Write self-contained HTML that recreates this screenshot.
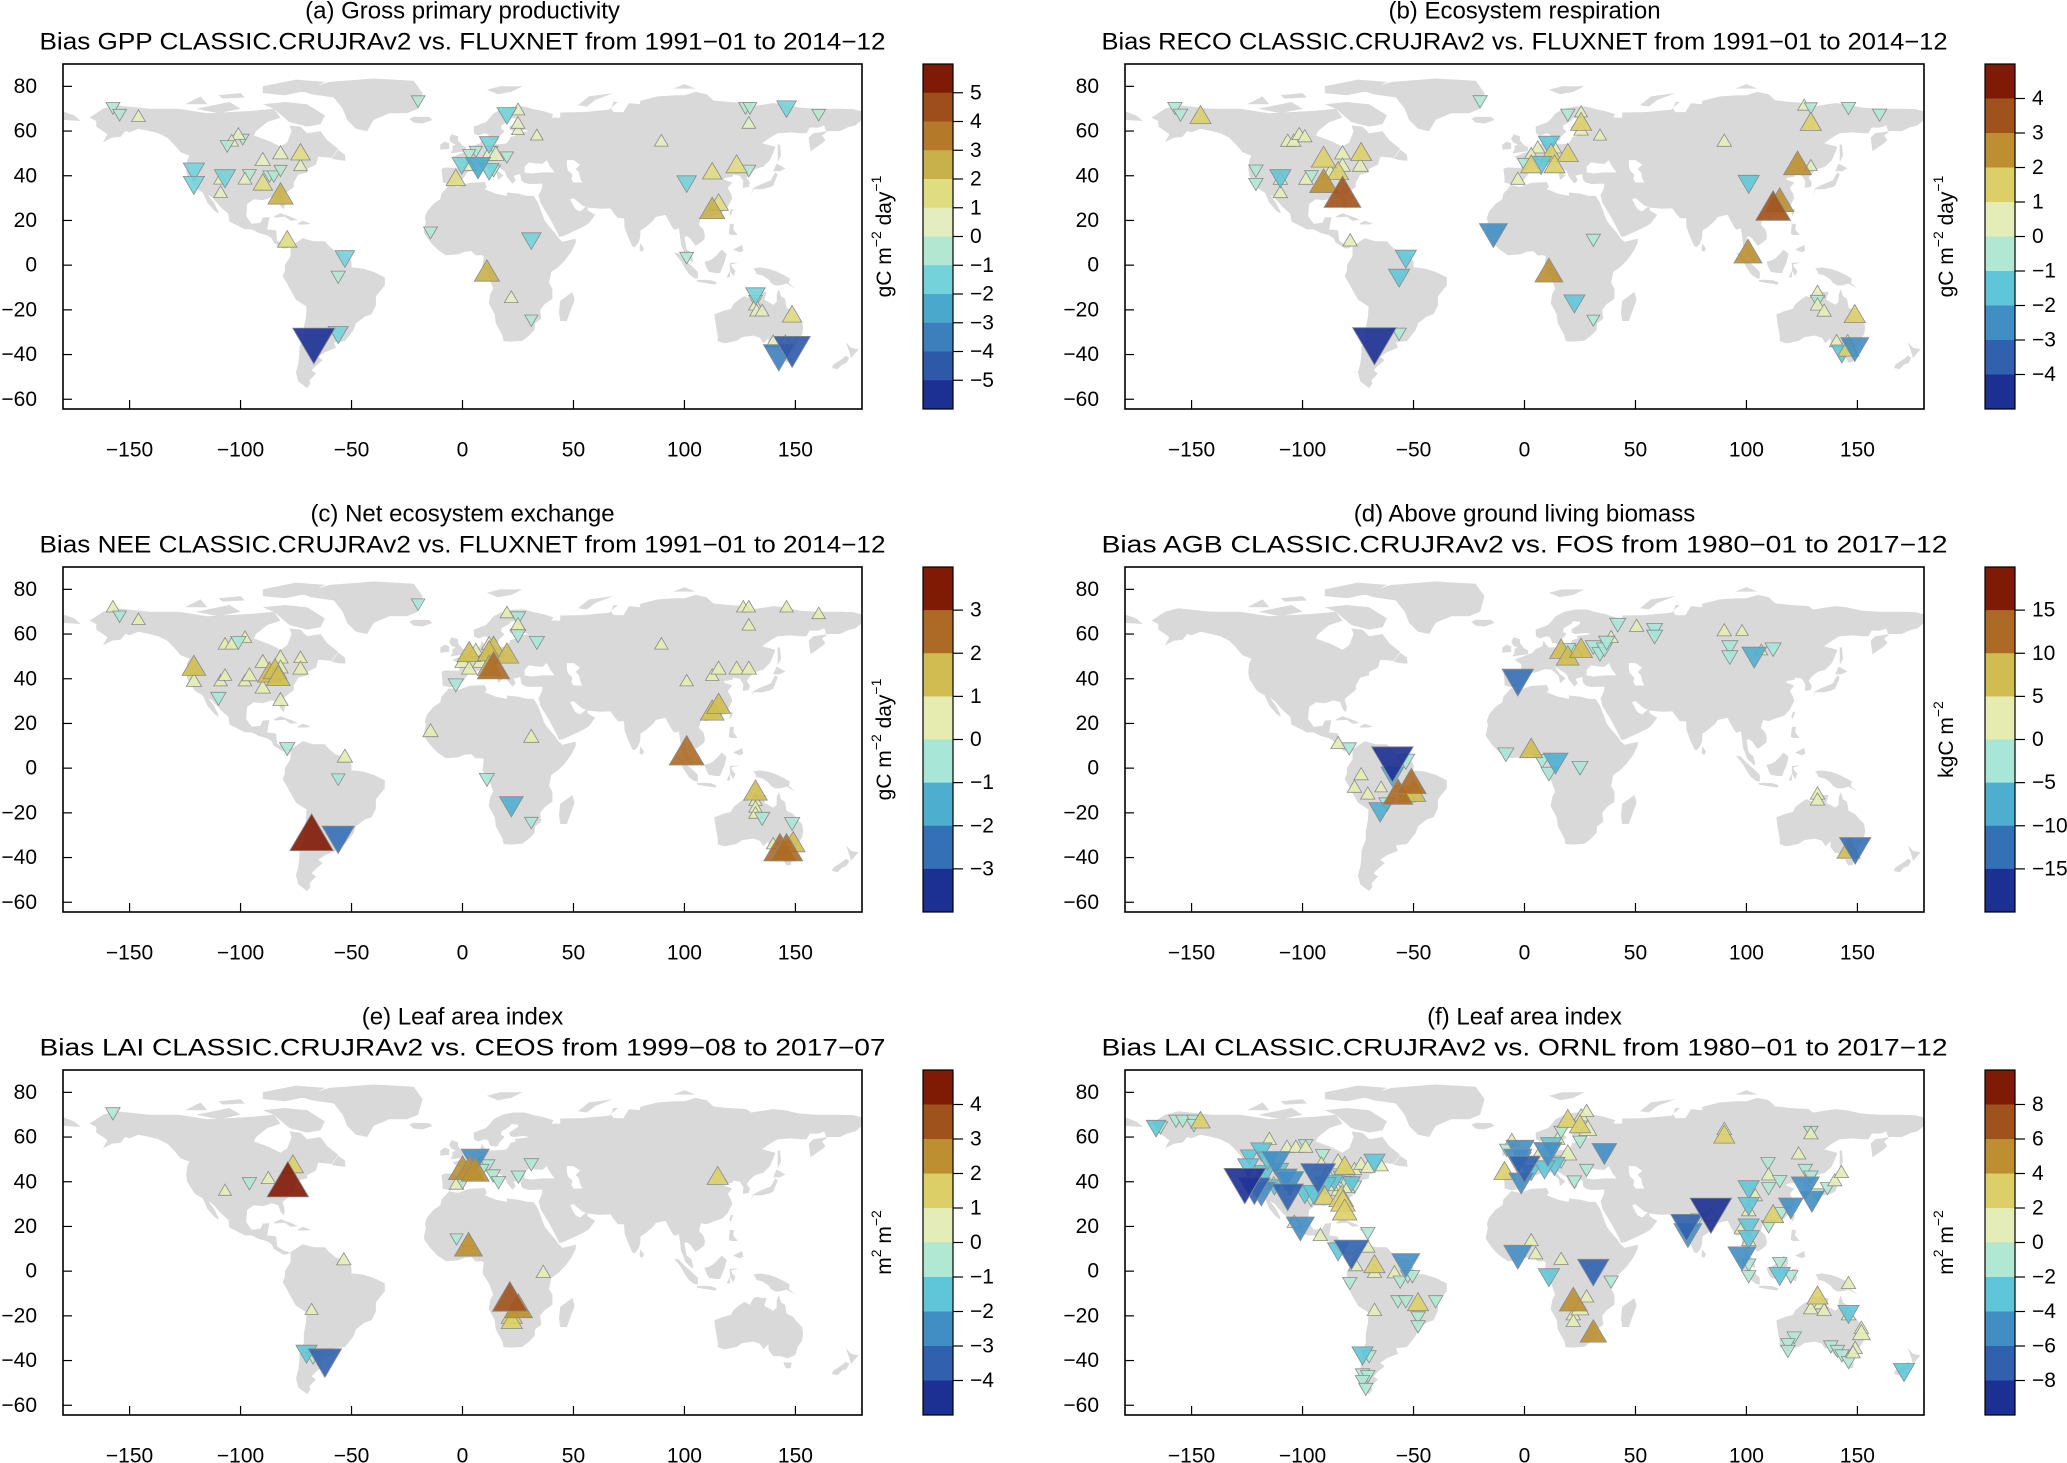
<!DOCTYPE html>
<html><head><meta charset="utf-8">
<style>
html,body{margin:0;padding:0;background:#fff;}
svg{display:block;font-family:"Liberation Sans",Arial,sans-serif;}
</style></head>
<body>
<svg id="fig" width="2067" height="1463" viewBox="0 0 2067 1463" xmlns="http://www.w3.org/2000/svg"></svg>
<script>
// ---- Site data: [lon, lat, bias] ----
const gppSites = [[-157.5,71,-0.5],[-154.5,68,-0.5],[-146,66,0.5],[-101,58,0.5],[-104,55,0.5],[-106,54,-0.5],[-99,57,-0.3],[-121,43,-1.8],[-121,37,-1.8],[-107,40,-1.8],[-109,38,0.5],[-109,32,0.5],[-96,41,-0.5],[-98,38,0.5],[-90,46.5,0.8],[-82,49.5,0.8],[-73,49.5,1.5],[-87,40.5,-0.4],[-85,40.5,-0.4],[-82,43,-0.4],[-73,44,0.5],[-90,36,1.5],[-82,30.5,2.5],[-79,10.5,1.5],[-53,4,-1.5],[-56,-4.5,-0.6],[-67,-33.5,-5.5],[-56,-30,-1.6],[-20,74,-0.5],[20,68,-1.5],[25,69,0.5],[25,63,0.5],[25,60,0.3],[33.5,57.6,0.3],[12,55,-1.5],[6,51.5,-0.4],[13,51.5,-0.4],[12,49,1],[15,49,1],[3,50,-0.4],[20,49,-0.4],[-0.3,45.7,-1.5],[7,45,-2.5],[12,43,-1.5],[14,43,-0.5],[3,44,0.5],[-3,38,1.5],[-14.4,15.3,-0.5],[31,12,-1.5],[11,-4,2.5],[22,-15,0.5],[31,-24,-0.4],[89.6,55,0.5],[101,37.5,-1.5],[112.5,41,1.5],[123.5,44,1.8],[129,43,-0.5],[112.5,24,2.5],[115.4,27,1.5],[101,4,-0.5],[127.5,71,-0.5],[129.5,71,-0.5],[129,63,0.5],[146,71,-1.5],[160.5,68,-0.5],[132,-12.6,-1.5],[132,-15.3,-0.5],[132,-18.3,0.5],[132.5,-21,0.5],[135,-21,0.5],[148.5,-23,1.5],[140,-34.7,0.5],[145.5,-34.7,0.5],[142.5,-39.5,-3.5],[148.5,-36.5,-4.5]];
const recoSites = [[-157.5,71,-0.5],[-155,68,-0.5],[-146,66,1.5],[-106.7,55,0.5],[-104,55,0.5],[-101.5,58,0.5],[-99,57,0.5],[-121,43,-0.5],[-121,37,-0.5],[-110,40,-1.5],[-110,38,0.5],[-110,32,0.5],[-96,40.5,-0.4],[-98.5,38,0.5],[-90.5,47,2],[-82,49.5,0.7],[-73.6,49.5,1.5],[-87.5,41,0.7],[-84,41,1.5],[-82,44,0.7],[-74,44,0.7],[-90.5,36,2.5],[-82,30.5,3.8],[-78.6,10.4,0.5],[-53.5,4,-1.5],[-56.5,-4.5,-1.5],[-67.6,-33.5,-4.8],[-56.5,-30,-0.5],[-20,74,-0.5],[19.5,68,-0.5],[25.5,68,0.3],[25.5,63,1.5],[25.5,60,0.5],[34,57.6,0.3],[11,55,-1.5],[6,52,0.5],[13.5,52,0.5],[12,49,1.5],[19.5,49,1.5],[3,49,0.5],[0,46,-0.5],[7.5,46,-1.5],[13.5,44,1.5],[3,44,1.5],[-3,38,0.5],[-14,15,-2.5],[31,12,-0.5],[11,-4,2.5],[22.5,-16,-1.5],[31,-24,-0.3],[90,55,0.5],[101,37.5,-1.5],[123,44,2.5],[129,44,0.3],[112,24.5,3.5],[115,27.5,2.5],[100.7,4.5,2.5],[126,71,0.3],[129,71,-0.3],[129,63,1.5],[146,71,-0.5],[160,68,-0.5],[132,-12.6,0.5],[132,-15.3,-0.5],[132,-18.3,0.5],[135,-21,0.5],[148.8,-23,1.5],[140.6,-34.7,0.5],[145.6,-34.7,0.5],[143,-38.4,-1.5],[146,-38,1.5],[148.8,-36,-2.5]];
const neeSites = [[-157.5,71.6,0.3],[-154.5,68.6,-0.3],[-146,66,0.3],[-107,55,0.3],[-104,55,0.3],[-101,57,-0.5],[-98,58,0.3],[-121,44.5,1.5],[-121,38.5,0.5],[-110,32,-0.5],[-109,38.5,0.3],[-107,41,0.3],[-98,38.5,0.3],[-96,41,0.5],[-90,47,0.5],[-82,49,0.5],[-73,49,0.3],[-90,35.5,0.5],[-87,41.5,1.5],[-84.5,43,1.5],[-83,40,1.5],[-82,44.5,0.5],[-73,44,0.5],[-82,30,0.5],[-79,9.5,-0.5],[-53,4.6,0.5],[-56,-4.3,-0.3],[-68,-31.4,3.8],[-56,-30,-2.5],[-20,74,-0.3],[20,69,0.3],[25,68,-0.5],[25,63.5,0.5],[25,60,-0.5],[33.5,57,-0.5],[3,50.7,1.5],[6,52,0.5],[12,55,0.5],[14,53,1.5],[12,51,1.5],[20,50,1.5],[14,49,-0.5],[0,47,0.5],[3,44,0.5],[8,47,0.5],[12,44.5,1.5],[14,44,2.5],[-3,38,-0.5],[-14.4,16,0.5],[31,13.5,0.5],[11,-4.3,-0.5],[22,-15.8,-1.5],[31,-23.7,-0.3],[89.6,55,0.3],[101,38.5,0.3],[112.5,41,0.3],[115.4,44,0.5],[123.5,44,0.5],[129,44,0.5],[112.5,24.5,1.5],[115.4,27.5,1.5],[101,5.8,2.8],[126.5,71.6,0.3],[129,71.6,0.3],[129,63.5,0.3],[146,71.6,0.3],[160.5,68.6,0.3],[132,-11.3,1.5],[132,-15,0.3],[132,-18,0.3],[132,-20.7,0.3],[135,-21.7,-0.5],[148.5,-24,-0.5],[140,-34.4,0.3],[143,-37.4,2.5],[146,-37.4,2.5],[145.5,-35,-0.5],[149,-34.4,1.5]];
const agbSites = [[-84,10.6,2],[-79,9.5,-2],[-59.5,4.3,-18],[-53.5,4,-4],[-59.5,-2.4,-7],[-73.6,-3.4,2],[-76.6,-9,2],[-70.6,-12,2],[-64.6,-9,1],[-57,-12.4,11],[-51,-7.6,11],[-50,-11.8,8],[-53,-12.8,4],[-55.6,-9.8,-2],[-65,-18.3,-7],[-62,-15.3,-3],[-3,40.3,-12],[-8.4,7,-3],[3,7.6,7],[8,4,-3],[14,3.6,-8],[11,-1.6,-3],[25,1,-3],[16.5,52,7],[19.5,53.7,-3],[22.5,52,2],[19.5,49,7],[25.5,52.4,7],[31,55,-3],[34,52,-3],[36,54,-3],[37,57,-3],[39,58,2],[42,65,-3],[50.5,63,2],[58.6,62.7,-3],[58.6,59.7,-3],[90,61,2],[98,61,1],[92.5,55,-3],[92.5,50.5,-3],[103.5,51,-8],[106.7,52.3,1],[112,54,-3],[132,-12,2],[132,-14.7,2],[149,-35,-12],[146,-37.4,7]];
const laiCeosSites = [[-157.5,71.3,-0.5],[-107,35.6,0.3],[-96,40,-0.5],[-87.5,41,0.5],[-76.4,46.7,1.5],[-78.7,38.5,4.5],[5.7,51,-2.5],[8.4,48,0.5],[11.4,48,-0.5],[8.7,46,-0.5],[0,44.5,2.5],[3.3,44.5,2.5],[5.7,43.8,2.5],[13.8,43.5,-0.5],[16.2,40.5,-0.5],[25.2,43,-0.5],[31,48.5,-0.5],[-2.7,38.5,0.5],[0,40.5,-0.5],[115,41.5,1.5],[-2.7,15,-0.3],[2.7,13.2,0.5],[2.7,10.3,2.5],[36.4,-1,0.5],[-53.5,4.6,0.5],[-68,-17.7,0.3],[21.3,-13.5,3.5],[25.2,-17.3,2.5],[22.2,-20.7,1.5],[22.2,-23,1.5],[-70.3,-35.8,-1.5],[-67.3,-38,-0.5],[-62,-39,-3.3]];
const laiOrnlSites = [[-166,65,-2.5],[-164,65,-1],[-157,68,-1],[-154,68,-1],[-149,68,-1],[-149,66,-1],[-146,66.5,2.5],[-115,58.5,1],[-118.6,54.7,-3],[-107,55,1],[-103,55,1],[-98.6,57,-1],[-98.6,55,1],[-124,52,-2],[-124.5,47.6,-3],[-126,40.7,-9],[-121.7,37.8,-6],[-118.6,36.3,-5],[-117,44.6,-3],[-115.7,50.6,-3],[-112,50,-5],[-110.3,46,-2],[-108,42.6,-4],[-105.8,41,-5],[-106.7,35,-6],[-112.7,38.6,-2],[-118.6,42.6,1],[-113,38.6,1],[-93,43.7,-7],[-91,52.6,-1],[-91.5,47.5,1],[-89.6,39.3,-3],[-99,35.6,-3],[-95,35.6,-3],[-96.2,32.6,-1],[-103.7,21.4,1],[-101,20.7,-5],[-88.7,42.2,2],[-85.7,40.7,-2],[-84,48,2],[-81,46,3],[-79.6,43.7,1],[-76.6,45,1],[-73.6,47.4,1],[-70.6,46,1],[-67.6,49.7,-3],[-64.6,46.7,1],[-81,40.7,-1],[-76.6,38.5,-1],[-79.6,37,1],[-84,35.6,1],[-90,32.6,3],[-82.6,32,4],[-81.8,30,4],[-81,26,4],[-87,37.8,1],[-83,43,-1],[-78,40,-2],[-92,15.5,1],[-70.6,17.7,-1],[-84,10,-3],[-78,9.5,-7],[-70.6,10.3,1],[-76,2,1],[-67.6,2,3],[-67.6,-1,1],[-78.7,-4.6,-1],[-58.6,-1.2,1],[-56,-4,-1],[-53.5,4.3,-5],[-52.6,-1.6,-1],[-50.5,-1.6,-1],[-57,-12.8,-1],[-53.5,-12.8,-1],[-40,-12.8,-1],[-48,-15,3],[-67.6,-18,1],[-48,-20,-1],[-48,-24,-1],[-73,-36.6,-3],[-70,-37.4,-1],[-73,-45.5,-1],[-70.6,-46.3,-1],[-73,-48.5,-1],[-71.5,-52,-1],[-5.7,58,1],[-8,55,-1],[-2,55,-5],[-3,51,-5],[-1,51,-2],[6,51,1],[10.5,54,-5],[12,57,-3],[15,58.6,1],[16.5,63,-1],[19.5,67,3],[25.5,69,1],[28,71,1],[25,64.6,3],[28.5,63,2],[25,58.6,-1],[36,54,-4],[19.5,52,2],[16.5,49.7,-1],[13.5,48.2,-3],[9,46.7,-3],[3,45,-2],[-1.5,40.8,-4],[-9,43.7,3],[0,47.5,-6],[22.5,40.8,-1],[28,46,-1],[90,63,1],[90,60,3],[129,63,-1],[129,61,1],[123.5,52,1],[109.7,49,-1],[126.5,46,-1],[129,43,-1],[110,42.6,1],[115,41,-1],[101,37.8,-3],[110,37.8,-1],[126.5,38.6,-5],[129.5,32.6,-4],[120,29.6,-4],[132,35,-1],[136.5,37.8,-1],[139.8,40,1],[142.8,43.7,1],[101,30.3,-3],[101,26.6,1],[104,33.3,1],[112,24.4,3],[115.7,26.6,-1],[110,20.7,-1],[84,27.4,-9],[84,24.4,1],[73,21.4,-6],[73.6,17.7,-5],[78,23.8,-1],[97.7,18.5,1],[101,20.7,-3],[101,15.5,-3],[101,13.2,1],[98,7.3,-5],[101,3.6,-1],[101,-1.6,-1],[115,4.3,-1],[115,-1,-3],[120,-1.6,-1],[146,-6,1],[-3,8,-5],[3,13.2,1],[5,7.3,1],[16.5,4.8,1],[11,-1.6,-3],[31,1.3,-6],[39,-4,-1],[28,-12,1],[22,-14.3,5],[25,-17.3,2],[22,-20,1],[22,-23,1],[31,-28.4,4.5],[132,-12,3],[130.5,-15,1],[133.5,-15,1],[129,-17.3,1],[135,-18,1],[146,-18,-3],[146,-20,1],[121.5,-29,-1],[118.7,-32,-1],[118.7,-35,-1],[151.8,-28.4,2],[151.8,-26,1],[138,-33,-1],[141,-35,-1],[143,-37,-1],[146,-40,-1],[149,-35,1],[148,-37,1],[171,-44,-3]];

// ---- Colour-bar ticks per panel ----
const gppTicks = [5,4,3,2,1,0,-1,-2,-3,-4,-5];
const recoTicks = [4,3,2,1,0,-1,-2,-3,-4];
const neeTicks = [3,2,1,0,-1,-2,-3];
const agbTicks = [15,10,5,0,-5,-10,-15];
const laiCeosTicks = [4,3,2,1,0,-1,-2,-3,-4];
const laiOrnlTicks = [8,6,4,2,0,-2,-4,-6,-8];
const lonTicks = [-150,-100,-50,0,50,100,150];
const latTicks = [80,60,40,20,0,-20,-40,-60];

const PAL = {
 12:['#7f1a04','#9e4e1a','#b47a2a','#c8b04a','#e0dc80','#e4edc0','#b2e8d2','#74d2da','#4aa8cc','#3b7fbd','#2e58a8','#1c2f93'],
 10:['#7f1a04','#a0521c','#bd8f30','#dccf68','#e4edb8','#b0e8d4','#5ec6d8','#418ec4','#3060ae','#1c2f93'],
 8:['#7f1a04','#ad6a24','#d0bc50','#e6ecb0','#a8e6d8','#4eaed0','#3470b6','#1c2f93']
};

const panels = [
 {key:'gpp', col:0,row:0, t1:'(a) Gross primary productivity', t2:'Bias GPP CLASSIC.CRUJRAv2 vs. FLUXNET from 1991\u221201 to 2014\u221212', sites:gppSites, ticks:gppTicks, vmax:6, nseg:12, unit:'gc'},
 {key:'reco', col:1,row:0, t1:'(b) Ecosystem respiration', t2:'Bias RECO CLASSIC.CRUJRAv2 vs. FLUXNET from 1991\u221201 to 2014\u221212', sites:recoSites, ticks:recoTicks, vmax:5, nseg:10, unit:'gc'},
 {key:'nee', col:0,row:1, t1:'(c) Net ecosystem exchange', t2:'Bias NEE CLASSIC.CRUJRAv2 vs. FLUXNET from 1991\u221201 to 2014\u221212', sites:neeSites, ticks:neeTicks, vmax:4, nseg:8, unit:'gc'},
 {key:'agb', col:1,row:1, t1:'(d) Above ground living biomass', t2:'Bias AGB CLASSIC.CRUJRAv2 vs. FOS from 1980\u221201 to 2017\u221212', sites:agbSites, ticks:agbTicks, vmax:20, nseg:8, unit:'kgc'},
 {key:'lai-ceos', col:0,row:2, t1:'(e) Leaf area index', t2:'Bias LAI CLASSIC.CRUJRAv2 vs. CEOS from 1999\u221208 to 2017\u221207', sites:laiCeosSites, ticks:laiCeosTicks, vmax:5, nseg:10, unit:'m2'},
 {key:'lai-ornl', col:1,row:2, t1:'(f) Leaf area index', t2:'Bias LAI CLASSIC.CRUJRAv2 vs. ORNL from 1980\u221201 to 2017\u221212', sites:laiOrnlSites, ticks:laiOrnlTicks, vmax:10, nseg:10, unit:'m2'}
];

// ---- simplified land ----
const LAND = [
[[-168,66],[-162,70],[-156,71.5],[-141,70],[-128,70],[-115,68],[-95,69],[-85,70],[-82,66],[-88,64],[-93,60],[-94,58],[-87,55.5],[-82,53],[-79,55],[-77,60],[-78,62.5],[-73,62],[-70,59],[-64,60],[-61,56],[-56,52],[-59,48],[-65,48.5],[-66,45],[-70,43],[-70,41.5],[-74,40.5],[-76,37],[-76,35],[-81,31],[-80,27],[-80.5,25],[-82,26.5],[-83,29.5],[-86,30.3],[-90,29],[-94,29.5],[-97,27.5],[-97.5,22],[-95,18.5],[-91,19],[-90,21.3],[-87,21.5],[-88,16],[-84,15.5],[-83.5,11],[-80,9],[-77.5,8.5],[-79,7.5],[-81,7.5],[-85,10],[-86,12],[-88,13.3],[-92,14.5],[-95,16],[-98,16],[-105,19.5],[-105.5,23],[-109,26],[-112.5,30],[-114.7,31.5],[-112,28],[-110,24],[-110,23],[-112,24.5],[-115,28],[-117,32.5],[-120.5,34.5],[-122.5,37.5],[-124,40],[-124.5,43],[-124,47],[-123,49],[-127,50.5],[-130,54],[-133,57],[-137,59],[-141,60],[-146,61],[-150,59.5],[-152,60],[-154,57.5],[-158,57],[-162,55],[-160,58.5],[-162,60],[-165,62],[-165,64.5]],
[[-73,78],[-60,82],[-40,83.5],[-22,82.5],[-18,77],[-20,70],[-25,68],[-33,68],[-40,65],[-43,60],[-48,61],[-52,65],[-54,70],[-58,75],[-68,76.5]],
[[-90,72],[-80,73],[-70,72],[-62,67],[-64,63],[-70,62],[-78,64],[-85,70]],
[[-90,80],[-75,83],[-62,82],[-70,78],[-80,76],[-90,77]],
[[-120,70],[-105,73],[-100,70],[-110,68]],[[-125,72],[-118,75.5],[-115,72]],[[-110,76],[-100,77],[-98,75],[-108,74.5]],
[[-77.5,8.5],[-72,12],[-67,10.7],[-62,10.7],[-60,8.5],[-57,6],[-52,5],[-50,1.5],[-50,-1],[-45,-1.5],[-40,-3],[-35,-5.5],[-35,-9],[-39,-14],[-39,-18],[-41,-22],[-44,-23],[-48,-26],[-49,-29],[-53,-34],[-58,-34.5],[-57,-37],[-62,-39],[-65,-41],[-63,-42.5],[-66,-45],[-68,-47],[-66,-48.5],[-69,-51.5],[-68.5,-53],[-70,-55],[-74,-52],[-75,-48],[-74,-44],[-73.5,-40],[-73.5,-37],[-71.5,-32],[-71.5,-28],[-70.5,-23],[-70.3,-18.5],[-75,-15.5],[-77,-12],[-79.5,-7.5],[-81,-5],[-80,-2.5],[-80,0],[-78.5,2.5],[-77.5,4]],
[[-17,21],[-16,24],[-13,27.5],[-10,29.5],[-9.5,32],[-6,35.8],[-2,35],[3,36.8],[10,37.2],[11,35],[10,34],[15,32],[20,31],[20,32.5],[25,32],[29,31],[32,31],[34,28],[35.5,24],[37,20],[38.5,18],[42,14],[43.3,12],[45,10.5],[51,11.8],[51,10],[49,6],[46,2],[43,-1],[40,-3],[39,-8],[40.5,-10.5],[40.5,-15],[37,-17.5],[35,-20],[35.5,-24],[32.7,-26],[32.5,-29],[30,-31.5],[27,-33.8],[22,-34.2],[18.5,-34],[18,-31.5],[15,-26],[14.5,-22],[11.8,-17],[12.5,-13],[13.8,-10.5],[12.2,-6],[9,-1],[9.6,4],[8.5,4.5],[6,4.3],[4,6.3],[1,6],[-2,4.8],[-7.5,4.4],[-11,6.8],[-13.3,9],[-15,11],[-16.8,13.5],[-17.5,14.7],[-16.5,19.5]],
[[44,-16],[49.5,-12],[50.5,-15.5],[47,-25],[44,-25],[43.5,-21]],
[[-9.5,43],[-9,39],[-9,37],[-6,36.2],[-2,36.7],[0,38.5],[3,42.5],[6,43.1],[9,44.3],[12.5,44],[15.5,41],[16,38],[18.5,40.2],[16,42],[13.5,45.5],[19,42],[20,39.5],[22.5,36.5],[24,38],[23,40],[26,40.8],[26.5,38],[27.5,37],[30,36.3],[36,36.5],[35.8,34.5],[34.9,32.5],[34.2,31.3],[34.8,29.5],[35,28],[39,21.5],[42.5,15],[43.5,12.7],[45,12.8],[52,16],[55,17.5],[57,18.8],[59.8,22.5],[56.5,24.5],[56,26.5],[53,24],[51,25],[50,26.5],[48.5,29.5],[50,30],[54,26.7],[57,25.7],[62,25.2],[66.7,25.4],[68,23.5],[70,21],[72.8,21],[73,17],[74.5,13],[76.5,8.5],[77.5,8],[79,9.5],[80,12],[80.2,15.5],[82.5,17],[86,20],[87,21.5],[89,22],[91.5,22.5],[92.5,20.5],[94.5,17],[95.5,15.8],[97.5,16.5],[98,13],[98.5,9],[100.5,4],[103.5,1.3],[104,2],[103,5.5],[101,7],[100,12.5],[101,13],[102.5,12],[105,8.6],[106.5,9.6],[109,11.5],[109.2,13.5],[108.5,16],[106.5,18],[107.5,21.5],[110,21],[113,22.2],[117,23.5],[119.5,26],[121.5,30],[121,32],[119.5,34.5],[121.5,37],[118,38.2],[118,39],[121.5,39.5],[122,40.5],[125,40],[126.5,37.5],[126.3,34.5],[129,35],[129.5,37],[128,39],[129.5,41],[132,43],[135.5,44],[138.5,47],[140.5,51.5],[141,53],[137,54],[135,54.5],[138.5,57],[142,59],[148,59.4],[152,59],[155,59],[156.5,61.6],[160,61.5],[163,62.5],[164,59.5],[162,58],[163.5,56],[162,54.5],[156.8,51],[156,57],[158,59],[164.5,60],[170,60],[174,61.8],[177,62.5],[180,65],[180,68.8],[176,69.8],[170,70],[160,70],[152,70.5],[145,72],[140,72.5],[130,71],[128,72.5],[120,73],[113,73.7],[110,76.5],[105,77.5],[100,76],[96,76],[88,75.5],[80,73.5],[80,72],[75,72.5],[72.5,68.5],[68,68.5],[67,70],[68,73],[70,73],[66,69.5],[60,69],[54,68.5],[44,68.3],[44,66],[40,66],[41,67.5],[36,69],[32,69.8],[28,71],[23,71],[18,70],[14,68],[12,65.5],[10.5,64],[5,62],[5.2,59],[7,58],[10,59],[11.5,58.5],[12.5,56],[14.5,56],[14,55.5],[16,56],[16.5,57.5],[19,60],[17.5,61],[17.5,62.5],[21,64.5],[22,65.8],[25,65.5],[25,64.5],[21,62],[21.5,60.5],[23,60],[28,60.5],[30,59.9],[26.5,59.5],[23.5,59.2],[24,58],[21.5,57.3],[21,56],[19.7,54.4],[14,54],[11,54],[10,55],[8.6,57],[8,54.5],[5,53.3],[3.5,51.5],[1.5,50.8],[-1.5,49.7],[-4.5,48.5],[-1.5,46.5],[-1.5,43.5],[-8,43.7]],
[[-5.5,50],[1.5,51],[1.7,52.7],[0,53.5],[-2,55.8],[-2,57.7],[-5,58.6],[-6,56.5],[-5,54.8],[-3,54],[-4.5,53.3],[-4.5,51.6]],
[[-6,52],[-6,54.5],[-8,55.3],[-10,54],[-10,51.6]],
[[-24,65.5],[-22,66.4],[-15,66.3],[-13.5,65],[-18,63.4],[-22,63.8]],
[[130,31],[131,34],[135,34],[138,34.7],[140,35.5],[141,38],[142,40.5],[141,41.5],[140,40],[139,38],[136.5,37],[133,35.5],[130.8,34.3]],
[[140,42],[141.5,45.5],[145.5,43.3],[143,42]],[[142,46],[143.5,49],[143,54],[142,54],[142,49]],
[[120.2,23],[121,25.2],[121.9,25],[120.8,22]],
[[120,14],[120.5,18.5],[122.3,18.4],[122,16],[124,13.5],[121,13.5]],[[122,7],[126,9],[126.5,6.5],[125,5.8],[122,6.9]],
[[109,1.5],[111,2],[113,3],[115,5],[116.8,7],[119,5],[118,1],[117.5,0],[116,-3.5],[114,-3.5],[111,-3],[110,-1.2]],
[[95.3,5.6],[97.5,5.2],[100,2.5],[104,-1],[106,-3],[106,-6],[104.5,-5.8],[102,-4],[100,-1],[98.5,1.7]],
[[105.2,-6.8],[108,-6.5],[112,-6.8],[114.5,-7.7],[114,-8.7],[110,-8.1],[106,-7.5]],
[[119,-5.5],[120.5,-5.5],[120.5,1],[124.5,1.2],[121,0.3],[121.5,-1],[123,-2.5],[122,-5],[120.5,-2.5]],
[[131,-1.5],[134,-1],[138,-1.7],[141,-2.6],[145,-4.5],[147.5,-6],[147,-8],[150,-10.5],[146,-8.2],[143.5,-9],[141,-9.1],[139,-8],[138,-6.5],[135,-4.5],[132.5,-4],[132,-2.8]],
[[113.5,-22],[114,-26],[115,-31.5],[115,-34],[118,-35],[123.5,-33.9],[126,-32.2],[131,-31.5],[134,-32.5],[135.6,-34.9],[137.8,-32.7],[138,-35.5],[140,-38],[144,-38.2],[146.3,-39.1],[150,-37.5],[151,-34],[153,-31],[153.5,-28],[153,-25],[150.5,-22.5],[149,-20.5],[146,-19],[145.3,-15],[143.5,-14],[142.5,-10.7],[141.6,-13],[141.5,-16.5],[140,-17.7],[136,-15.5],[137,-12],[135,-12],[132.5,-11.5],[131,-12.2],[129.5,-15],[127,-13.8],[125,-15],[122,-17.5],[121,-19.5],[117,-20.6],[114,-21.8]],
[[144.6,-40.7],[148.3,-40.9],[148,-43.2],[146,-43.6],[145,-42]],
[[172.7,-34.4],[175,-37],[178.5,-37.7],[177,-39.3],[175,-41.6],[174.5,-39.5],[174,-38]],
[[172.7,-40.5],[174.3,-41.5],[173,-43.8],[171,-44.5],[169,-46.6],[166.5,-46],[167,-44.5],[171,-42]],
[[80,9.8],[81.8,7.5],[81,6],[79.8,6.5]],
[[-85,21.8],[-82,23.2],[-77,21.5],[-74.2,20.2],[-77.5,19.9],[-80,21.7],[-84.5,21.3]],
[[-74.4,18.5],[-72,19.9],[-68.4,18.6],[-70,18.2],[-74.2,18.2]],
[[-59,47.6],[-56,51.6],[-53,49.5],[-52.7,46.7],[-55.5,46.9]],
[[11,78.5],[17,80],[27,80],[22,77.5],[16,76.5]],
[[52,71.5],[57,75.5],[68,77],[60,74],[56,71]],
[[95,79],[105,79],[100,81]],[[-180,65],[-172,64.5],[-175,67],[-180,68.8]]
];
const WATER = [
[[28,41.5],[28,44],[30,46],[33,45.5],[36,45.3],[38,47],[39.5,44],[41.5,41.5],[36,41.5],[31,41]],
[[47,44.5],[47,47],[50,47],[53,45],[51,43],[52.5,41.5],[53,39],[54,37],[50,37],[49,38.5],[49.5,40.5],[47.5,42.5]]
];

const NS='http://www.w3.org/2000/svg';
const svg=document.getElementById('fig');
function mk(tag,attrs,parent){const e=document.createElementNS(NS,tag);for(const k in attrs)e.setAttribute(k,attrs[k]);(parent||svg).appendChild(e);return e;}

const BW=799, BH=345, PXD=BW/360, PYD=2.235;

panels.forEach(p=>{
  const x0=63+p.col*1062, y0=64+[0,503,1006][p.row];
  const g=mk('g',{});
  
  
  const X=lon=>x0+(lon+180)*PXD;
  const Y=lat=>y0+(90-lat)*PYD;

  const t1=mk('text',{x:x0+BW/2,y:y0-53,'text-anchor':'middle','dominant-baseline':'central','font-size':24,fill:'#000'},g);
  t1.textContent=p.t1;
  
  
  const t2=mk('text',{x:x0+BW/2,y:y0-22,'text-anchor':'middle','dominant-baseline':'central','font-size':24,fill:'#000',textLength:846,lengthAdjust:'spacingAndGlyphs'},g);
  t2.textContent=p.t2;
  
  

  const cid='clip-'+p.key;
  const cp=mk('clipPath',{id:cid},g);
  mk('rect',{x:x0,y:y0,width:BW,height:BH},cp);
  const mg=mk('g',{'clip-path':'url(#'+cid+')'},g);
  
  
  let d='';
  LAND.forEach(poly=>{d+='M'+poly.map(q=>X(q[0]).toFixed(1)+','+Y(q[1]).toFixed(1)).join('L')+'Z';});
  const land=mk('path',{d:d,fill:'#d9d9d9',stroke:'none'},mg);
  
  
  let dw='';
  WATER.forEach(poly=>{dw+='M'+poly.map(q=>X(q[0]).toFixed(1)+','+Y(q[1]).toFixed(1)).join('L')+'Z';});
  mk('path',{d:dw,fill:'#fff'},mg);

  const pal=PAL[p.nseg], step=2*p.vmax/p.nseg;
  const colorOf=v=>{let i=Math.floor((p.vmax-v)/step);i=Math.max(0,Math.min(p.nseg-1,i));return pal[i];};
  const sorted=p.sites.slice().sort((a,b)=>Math.abs(a[2])-Math.abs(b[2]));
  sorted.forEach(s=>{
    const cx=X(s[0]), cy=Y(s[1]), v=s[2];
    const w=11+34*Math.min(1,Math.abs(v)/p.vmax), h=w*0.85;
    let pts;
    if(v>=0) pts=[[cx,cy-h*2/3],[cx-w/2,cy+h/3],[cx+w/2,cy+h/3]];
    else pts=[[cx,cy+h*2/3],[cx-w/2,cy-h/3],[cx+w/2,cy-h/3]];
    const tri=mk('polygon',{points:pts.map(q=>q[0].toFixed(1)+','+q[1].toFixed(1)).join(' '),fill:colorOf(v),'fill-opacity':0.9,stroke:'#8a8a8a','stroke-width':0.8},mg);
    
    
  });

  const box=mk('rect',{x:x0,y:y0,width:BW,height:BH,fill:'none',stroke:'#000','stroke-width':1.6},g);
  
  

  lonTicks.forEach(t=>{
    mk('line',{x1:X(t),x2:X(t),y1:y0+BH,y2:y0+BH-9,stroke:'#000','stroke-width':1.2},g);
    const tl=mk('text',{x:X(t),y:y0+BH+41,'text-anchor':'middle','dominant-baseline':'central','font-size':21},g);
    tl.textContent=t<0?'\u2212'+(-t):String(t);
    
    
  });
  latTicks.forEach(t=>{
    mk('line',{x1:x0,x2:x0+9,y1:Y(t),y2:Y(t),stroke:'#000','stroke-width':1.2},g);
    const tl=mk('text',{x:x0-26,y:Y(t),'text-anchor':'end','dominant-baseline':'central','font-size':21},g);
    tl.textContent=t<0?'\u2212'+(-t):String(t);
    
    
  });

  const cbx=x0+BW+61, cbw=30;
  const segH=BH/p.nseg;
  const cb=mk('g',{},g);
  
  
  pal.forEach((c,i)=>{mk('rect',{x:cbx,y:y0+i*segH,width:cbw,height:segH+0.5,fill:c},cb);});
  mk('rect',{x:cbx,y:y0,width:cbw,height:BH,fill:'none',stroke:'#000','stroke-width':1.2},cb);
  const CY=v=>y0+(p.vmax-v)/(2*p.vmax)*BH;
  p.ticks.forEach(t=>{
    mk('line',{x1:cbx+cbw,x2:cbx+cbw+10,y1:CY(t),y2:CY(t),stroke:'#000','stroke-width':1.2},cb);
    const tl=mk('text',{x:cbx+cbw+17,y:CY(t),'text-anchor':'start','dominant-baseline':'central','font-size':21},cb);
    tl.textContent=t<0?'\u2212'+(-t):String(t);
    
    
  });
  const ux=x0+BW+22, uy=y0+BH/2;
  const ut=mk('text',{x:ux,y:uy,'text-anchor':'middle','dominant-baseline':'central','font-size':21,transform:'rotate(-90 '+ux+' '+uy+')'},g);
  
  
  function ts(txt,sup){const s=mk('tspan',sup?{'baseline-shift':'super','font-size':14}:{},ut);s.textContent=txt;}
  if(p.unit==='gc'){ts('gC m');ts('\u22122',1);ts(' day');ts('\u22121',1);}
  else if(p.unit==='kgc'){ts('kgC m');ts('\u22122',1);}
  else {ts('m');ts('2',1);ts(' m');ts('\u22122',1);}
});
</script>
</body></html>
